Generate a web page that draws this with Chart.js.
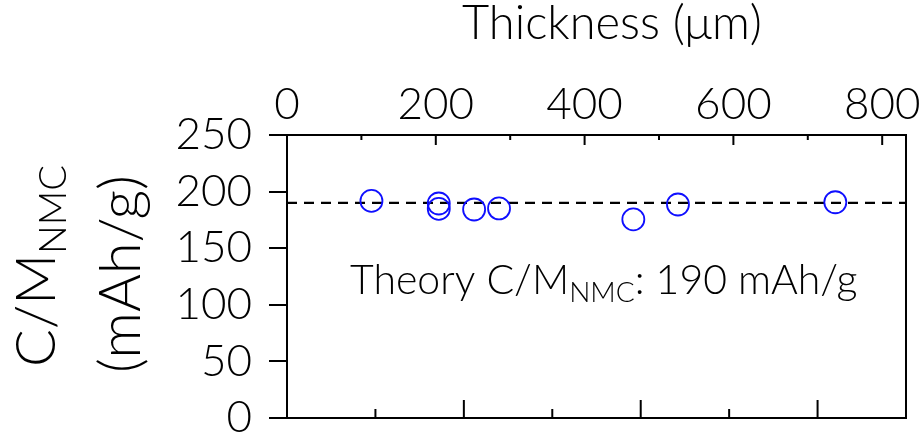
<!DOCTYPE html>
<html>
<head>
<meta charset="utf-8">
<script src="https://cdn.jsdelivr.net/npm/chart.js@4.4.1/dist/chart.umd.min.js"></script>
<style>
  html, body { margin: 0; padding: 0; background: #fff; }
</style>
</head>
<body>
<canvas id="capChart" width="921" height="432"></canvas>
<script>
// electrode thickness (µm) vs. capacity per NMC mass (mAh/g)
const thickness = [113.5, 204, 204, 251.5, 285, 465.5, 525.5, 737];
const capacity  = [191.8, 189.5, 184.7, 184.2, 185.1, 175.4, 188.6, 190.6];
const theoryCap = 190;

// top axis (thickness) and left axis ticks
const xMax    = 832;
const xTicks  = [0, 200, 400, 600, 800];
const xMinor  = [100, 300, 500, 700];
const yTicks  = [0, 50, 100, 150, 200, 250];
// unlabelled bottom axis
const x2Max   = 3.5;
const x2Major = [1, 2, 3];
const x2Minor = [0.5, 1.5, 2.5];

const FONT = 'Lato';
const WEIGHT = '300';

function richText(ctx, parts, x, y, size, align) {
  const big = WEIGHT + ' ' + size + 'px ' + FONT;
  const small = WEIGHT + ' ' + Math.round(size * 0.68) + 'px ' + FONT;
  let w = 0;
  parts.forEach(p => { ctx.font = p.sub ? small : big; w += ctx.measureText(p.t).width; });
  let cx = align === 'center' ? x - w / 2 : x;
  parts.forEach(p => {
    ctx.font = p.sub ? small : big;
    ctx.fillText(p.t, cx, p.sub ? y + size * 0.2 : y);
    cx += ctx.measureText(p.t).width;
  });
}

// inward ticks on top/bottom axes
const innerTicks = {
  id: 'innerTicks',
  afterDatasetsDraw(chart) {
    const {ctx, chartArea: a, scales} = chart;
    ctx.save();
    ctx.strokeStyle = '#000';
    ctx.lineWidth = 2;
    const line = (px, y0, y1) => { ctx.beginPath(); ctx.moveTo(px, y0); ctx.lineTo(px, y1); ctx.stroke(); };
    xTicks.slice(1).forEach(v => line(scales.x.getPixelForValue(v), a.top, a.top + 10));
    xMinor.forEach(v => line(scales.x.getPixelForValue(v), a.top, a.top + 5));
    x2Major.forEach(v => line(scales.x2.getPixelForValue(v), a.bottom, a.bottom - 18));
    x2Minor.forEach(v => line(scales.x2.getPixelForValue(v), a.bottom, a.bottom - 9));
    ctx.restore();
  }
};

// titles and the theory note
const labels = {
  id: 'labels',
  afterDraw(chart) {
    const {ctx, chartArea: a} = chart;
    ctx.save();
    ctx.fillStyle = '#000';
    ctx.textAlign = 'left';
    ctx.textBaseline = 'alphabetic';
    richText(ctx, [{t: 'Thickness (\u03bcm)'}], 612, 39, 47, 'center');
    richText(ctx, [{t: 'Theory C/M'}, {t: 'NMC', sub: true}, {t: ': 190 mAh/g'}], a.left + 63, 294, 41, 'left');
    ctx.translate(0, 266);
    ctx.rotate(-Math.PI / 2);
    richText(ctx, [{t: 'C/M'}, {t: 'NMC', sub: true}], 0, 55, 56, 'center');
    richText(ctx, [{t: '(mAh/g)'}], -8, 140, 58, 'center');
    ctx.restore();
  }
};

const tickFont = {family: FONT, size: 44, weight: WEIGHT};

// drop the half-label padding so the plot box fills the fixed layout
const noPad = s => { s.paddingTop = 0; s.paddingBottom = 0; s.paddingLeft = 0; s.paddingRight = 0; };

new Chart(document.getElementById('capChart'), {
  type: 'scatter',
  data: {
    datasets: [
      {
        data: thickness.map((t, i) => ({x: t, y: capacity[i]})),
        pointStyle: 'circle', pointRadius: 11, pointHoverRadius: 11,
        pointBorderWidth: 1.8, pointBackgroundColor: 'rgba(0,0,0,0)', pointBorderColor: '#0f0fff',
        order: 1
      },
      {
        type: 'line',
        data: [{x: 0, y: theoryCap}, {x: xMax, y: theoryCap}],
        borderColor: '#000', borderWidth: 2.2, borderDash: [10, 7], pointRadius: 0,
        order: 2
      }
    ]
  },
  options: {
    responsive: false,
    animation: false,
    layout: {padding: {left: 0, right: 15, top: 0, bottom: 14}},
    plugins: {legend: {display: false}, tooltip: {enabled: false}},
    scales: {
      x: {
        type: 'linear', position: 'top', min: 0, max: xMax,
        afterBuildTicks: s => { s.ticks = xTicks.map(v => ({value: v})); },
        afterFit: s => { s.height = 135; noPad(s); },
        ticks: {font: tickFont, color: '#000', padding: 4, maxRotation: 0, autoSkip: false},
        grid: {drawOnChartArea: false, drawTicks: false},
        border: {color: '#000', width: 2}
      },
      x2: {
        type: 'linear', axis: 'x', position: 'bottom', min: 0, max: x2Max,
        afterFit: s => { s.height = 0; noPad(s); },
        ticks: {display: false},
        grid: {drawOnChartArea: false, drawTicks: false},
        border: {color: '#000', width: 2}
      },
      y: {
        type: 'linear', position: 'left', min: 0, max: 250,
        afterBuildTicks: s => { s.ticks = yTicks.map(v => ({value: v})); },
        afterFit: s => { s.width = 287; noPad(s); },
        ticks: {font: tickFont, color: '#000', padding: 17, autoSkip: false},
        grid: {drawOnChartArea: false, drawTicks: true, tickLength: 18, color: '#000', lineWidth: 2},
        border: {color: '#000', width: 2}
      },
      y2: {
        type: 'linear', position: 'right', min: 0, max: 250,
        afterFit: s => { s.width = 0; noPad(s); },
        ticks: {display: false},
        grid: {drawOnChartArea: false, drawTicks: false},
        border: {color: '#000', width: 2}
      }
    }
  },
  plugins: [innerTicks, labels]
});
</script>
</body>
</html>
